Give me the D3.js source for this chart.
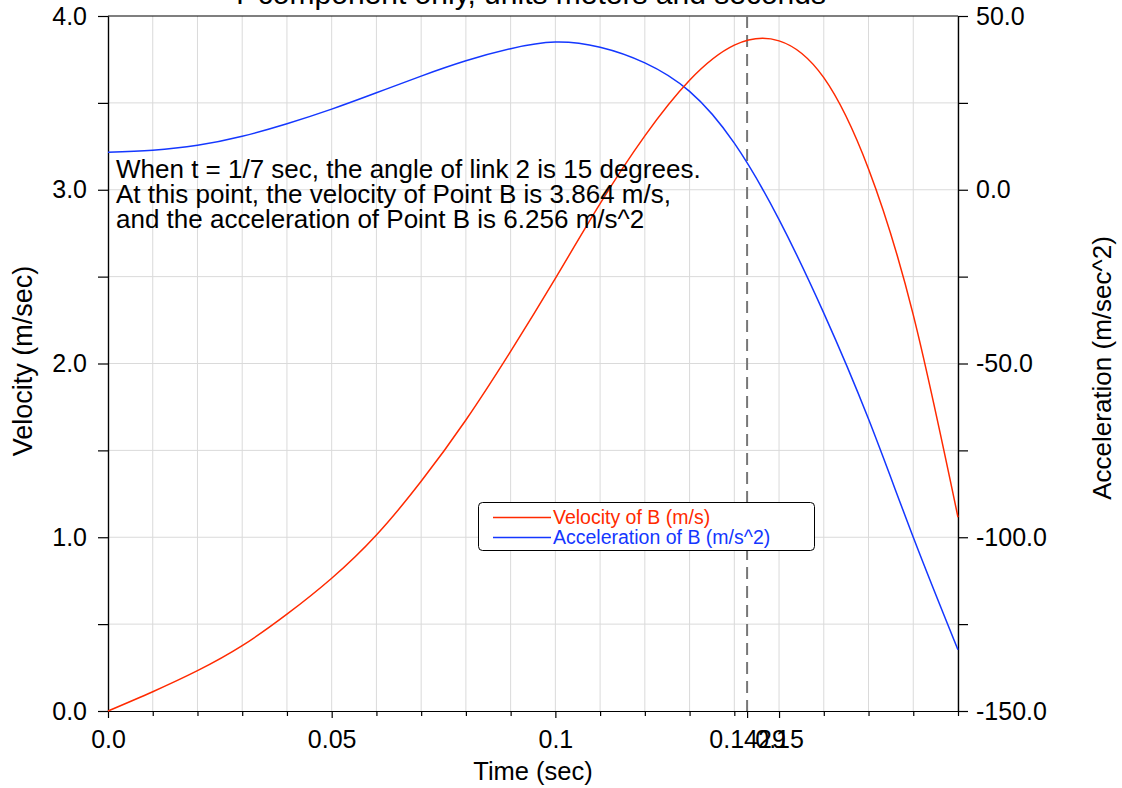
<!DOCTYPE html>
<html>
<head>
<meta charset="utf-8">
<script src="https://cdn.jsdelivr.net/npm/d3@7"></script>
<style>
    body { margin: 0; background: #fff; }
    svg { display: block; font-family: "Liberation Sans", Arial, Helvetica, sans-serif; }
    .grid line { stroke: #dadada; stroke-width: 1; }
    .axis path, .axis line { stroke: #000; stroke-width: 1.2; }
    .axis text { fill: #000; font-size: 25px; font-family: "Liberation Sans", Arial, sans-serif; }
</style>
</head>
<body>
<div id="chart"></div>
<script>
// time samples (sec) and the two series
const times = [0, 0.01, 0.02, 0.03, 0.04, 0.05, 0.06, 0.07, 0.08, 0.09, 0.10, 0.11, 0.12, 0.13, 0.14, 0.15, 0.16, 0.17, 0.18, 0.19];
const velocity = [0, 0.111, 0.232, 0.376, 0.557, 0.764, 1.013, 1.322, 1.675, 2.07, 2.49, 2.92, 3.31, 3.63, 3.832, 3.857, 3.645, 3.12, 2.28, 1.115];
const acceleration = [10.8, 11.4, 12.8, 15.4, 19.0, 23.2, 27.9, 32.7, 37.1, 40.6, 42.5, 41.0, 36.5, 28.3, 13.4, -8.6, -35.5, -66.0, -100.0, -132.4];

// tick values and labels
const xMajor = [0, 0.05, 0.1, 1/7, 0.15];
const xMajorLabels = ["0.0", "0.05", "0.1", "0.1429", "0.15"];
const xMinor = [0.01, 0.02, 0.03, 0.04, 0.06, 0.07, 0.08, 0.09, 0.11, 0.12, 0.13, 0.14, 0.16, 0.17, 0.18, 0.19];
const velMajor = [0, 1, 2, 3, 4];
const velMinor = [0.5, 1.5, 2.5, 3.5];
const accMajor = [-150, -100, -50, 0, 50];
const accMinor = [-125, -75, -25, 25];
const markTime = 1/7;

const annotation = [
    "When t = 1/7 sec, the angle of link 2 is 15 degrees.",
    "At this point, the velocity of Point B is 3.864 m/s,",
    "and the acceleration of Point B is 6.256 m/s^2"
];

const width = 1122;
const height = 788;
const margin = {top: 16, left: 108, right: 164, bottom: 77};

const red = "#ff2a00";
const blue = "#1437ff";

const fmt = d => d3.format(".1f")(d).replace("\u2212", "-");

const svg = d3.select("#chart")
    .append("svg")
    .attr("width", width)
    .attr("height", height);

const xScale = d3.scaleLinear()
    .domain([0, 0.19])
    .range([margin.left, width - margin.right]);

const yVel = d3.scaleLinear()
    .domain([0, 4])
    .range([height - margin.bottom, margin.top]);

const yAcc = d3.scaleLinear()
    .domain([-150, 50])
    .range([height - margin.bottom, margin.top]);

// grid
const grid = svg.append("g").attr("class", "grid");
grid.selectAll(".vgrid")
    .data(xMinor.concat([0.05, 0.1, 0.15]))
    .enter()
    .append("line")
        .attr("x1", d => xScale(d))
        .attr("x2", d => xScale(d))
        .attr("y1", margin.top)
        .attr("y2", height - margin.bottom);
grid.selectAll(".hgrid")
    .data(velMinor.concat([1, 2, 3]))
    .enter()
    .append("line")
        .attr("x1", margin.left)
        .attr("x2", width - margin.right)
        .attr("y1", d => yVel(d))
        .attr("y2", d => yVel(d));

// frame top
svg.append("line")
    .attr("x1", margin.left)
    .attr("x2", width - margin.right)
    .attr("y1", margin.top)
    .attr("y2", margin.top)
    .attr("stroke", "#000")
    .attr("stroke-width", 1.2);

// axes
svg.append("g")
    .attr("class", "axis")
    .attr("transform", `translate(0,${height - margin.bottom})`)
    .call(d3.axisBottom(xScale).tickValues(xMinor).tickSize(5).tickSizeOuter(0).tickFormat(""));

svg.append("g")
    .attr("class", "axis")
    .attr("transform", `translate(0,${height - margin.bottom})`)
    .call(d3.axisBottom(xScale).tickValues(xMajor).tickSize(7).tickSizeOuter(0).tickPadding(12)
        .tickFormat((d, i) => xMajorLabels[i]));

svg.append("g")
    .attr("class", "axis")
    .attr("transform", `translate(${margin.left},0)`)
    .call(d3.axisLeft(yVel).tickValues(velMinor).tickSize(10).tickSizeOuter(0).tickFormat(""));

svg.append("g")
    .attr("class", "axis")
    .attr("transform", `translate(${margin.left},0)`)
    .call(d3.axisLeft(yVel).tickValues(velMajor).tickSize(10).tickSizeOuter(0).tickPadding(11)
        .tickFormat(fmt));

svg.append("g")
    .attr("class", "axis")
    .attr("transform", `translate(${width - margin.right},0)`)
    .call(d3.axisRight(yAcc).tickValues(accMinor).tickSize(10).tickSizeOuter(0).tickFormat(""));

svg.append("g")
    .attr("class", "axis")
    .attr("transform", `translate(${width - margin.right},0)`)
    .call(d3.axisRight(yAcc).tickValues(accMajor).tickSize(10).tickSizeOuter(0).tickPadding(8)
        .tickFormat(fmt));

// dashed marker at t = 1/7
svg.append("line")
    .attr("x1", xScale(markTime))
    .attr("x2", xScale(markTime))
    .attr("y1", margin.top)
    .attr("y2", height - margin.bottom)
    .attr("stroke", "#777")
    .attr("stroke-width", 2)
    .attr("stroke-dasharray", "12,7");

// curves
const velLine = d3.line()
    .x((d, i) => xScale(times[i]))
    .y(d => yVel(d))
    .curve(d3.curveNatural);

const accLine = d3.line()
    .x((d, i) => xScale(times[i]))
    .y(d => yAcc(d))
    .curve(d3.curveNatural);

svg.append("path")
    .attr("d", accLine(acceleration))
    .attr("fill", "none")
    .attr("stroke", blue)
    .attr("stroke-width", 1.5);

svg.append("path")
    .attr("d", velLine(velocity))
    .attr("fill", "none")
    .attr("stroke", red)
    .attr("stroke-width", 1.5);

// annotation
svg.append("text")
    .attr("x", 116)
    .attr("y", 178)
    .attr("font-size", 26)
    .selectAll("tspan")
    .data(annotation)
    .enter()
    .append("tspan")
        .attr("x", 116)
        .attr("dy", (d, i) => i === 0 ? 0 : 25)
        .text(d => d);

// legend
const legend = svg.append("g");
legend.append("rect")
    .attr("x", 478.5)
    .attr("y", 502.5)
    .attr("width", 336)
    .attr("height", 48)
    .attr("rx", 4)
    .attr("fill", "#fff")
    .attr("stroke", "#000")
    .attr("stroke-width", 1);

const legendItems = [
    {label: "Velocity of B (m/s)", color: red},
    {label: "Acceleration of B (m/s^2)", color: blue}
];
legendItems.forEach(function(d, i) {
    legend.append("line")
        .attr("x1", 493)
        .attr("x2", 551)
        .attr("y1", 517.5 + i * 20)
        .attr("y2", 517.5 + i * 20)
        .attr("stroke", d.color)
        .attr("stroke-width", 1.5);
    legend.append("text")
        .attr("x", 553)
        .attr("y", 524 + i * 20)
        .attr("font-size", 19.5)
        .attr("fill", d.color)
        .text(d.label);
});

// title (cut off at the top)
svg.append("text")
    .attr("x", 528)
    .attr("y", 4)
    .attr("text-anchor", "middle")
    .attr("font-size", 30)
    .text("Y component only, units meters and seconds");

// axis labels
svg.append("text")
    .attr("x", (margin.left + width - margin.right) / 2)
    .attr("y", 780)
    .attr("text-anchor", "middle")
    .attr("font-size", 25.5)
    .text("Time (sec)");

svg.append("text")
    .attr("transform", "rotate(-90)")
    .attr("x", -361)
    .attr("y", 32)
    .attr("text-anchor", "middle")
    .attr("font-size", 27)
    .text("Velocity (m/sec)");

svg.append("text")
    .attr("transform", "rotate(-90)")
    .attr("x", -368)
    .attr("y", 1111)
    .attr("text-anchor", "middle")
    .attr("font-size", 26)
    .text("Acceleration (m/sec^2)");
</script>
</body>
</html>
